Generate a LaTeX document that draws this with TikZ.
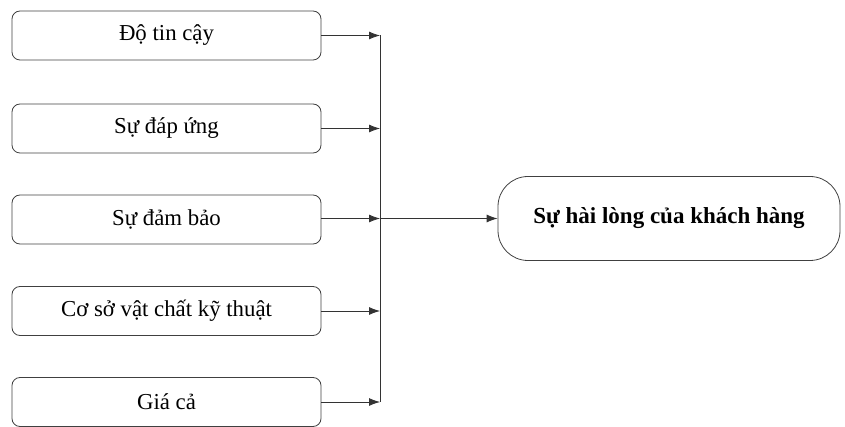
\documentclass[tikz,border=0pt]{standalone}
\usepackage{fontspec}
\setmainfont{Liberation Serif}
\usetikzlibrary{arrows.meta}
\begin{document}
\begin{tikzpicture}[x=1pt,y=1pt,
  factor/.style={draw=black!75, line width=0.8pt, rounded corners=8pt, minimum width=309pt, minimum height=49pt, inner sep=0pt, font=\fontsize{22.8}{26}\selectfont},
  target/.style={draw=black!75, line width=0.8pt, rounded corners=30pt, minimum width=342pt, minimum height=84pt, inner sep=0pt, font=\bfseries\fontsize{23}{26}\selectfont},
  conn/.style={draw=black!80, line width=0.8pt},
  arr/.style={conn, -{Latex[length=11pt,width=8pt]}}]
\useasboundingbox (0,0) rectangle (845,-427);
\node[factor] (f1) at (166.5,-35.5) {Độ tin cậy};
\node[factor] (f2) at (166.5,-128.5) {Sự đáp ứng};
\node[factor] (f3) at (166.5,-219.5) {Sự đảm bảo};
\node[factor] (f4) at (166.5,-311) {Cơ sở vật chất kỹ thuật};
\node[factor] (f5) at (166.5,-402) {Giá cả};
\node[target] (t) at (669,-218.5) {Sự hài lòng của khách hàng};
\coordinate (j1) at (380,-35.5);
\coordinate (j2) at (380,-128.5);
\coordinate (j3) at (380,-218.5);
\coordinate (j4) at (380,-311);
\coordinate (j5) at (380,-402);
\draw[arr] (f1.east) -- (j1);
\draw[arr] (f2.east) -- (j2);
\draw[arr] (f3.east |- j3) -- (j3);
\draw[arr] (f4.east) -- (j4);
\draw[arr] (f5.east) -- (j5);
\draw[conn] (j1) -- (j5);
\draw[arr] (j3) -- (t.west);
\end{tikzpicture}
\end{document}
